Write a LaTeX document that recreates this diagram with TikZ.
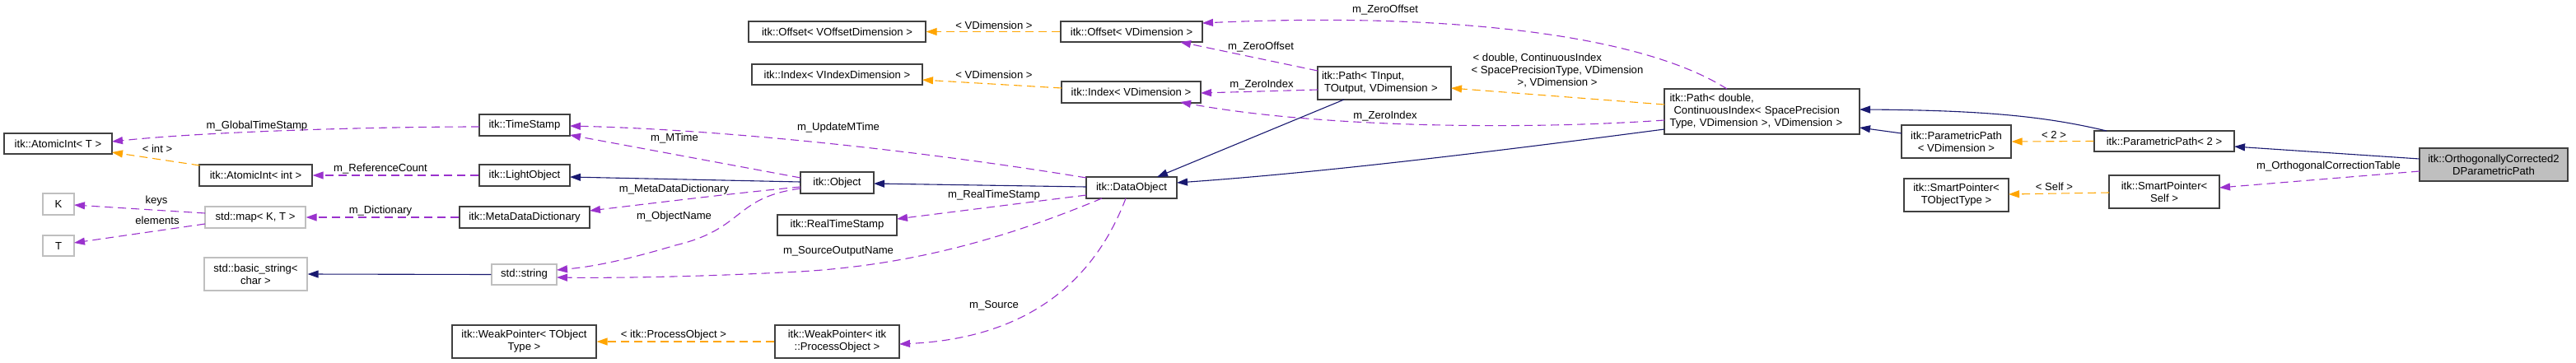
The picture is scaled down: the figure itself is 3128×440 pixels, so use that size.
\documentclass[tikz,border=0pt]{standalone}
\usepackage{fontspec}
\setmainfont{Liberation Sans}
\usetikzlibrary{arrows.meta}
\definecolor{navy}{HTML}{191970}
\definecolor{purp}{HTML}{9A32CD}
\definecolor{orng}{HTML}{FFA500}
\definecolor{bdark}{HTML}{404040}
\definecolor{bgray}{HTML}{BFBFBF}
\begin{document}
\begin{tikzpicture}[x=1pt,y=-1pt,
  font=\fontsize{13.1}{15}\selectfont,
  cls/.style={draw=bdark, line width=1.2pt, fill=white, inner sep=0pt, align=center},
  ext/.style={cls, draw=bgray},
  lbl/.style={inner sep=0pt, align=center},
  inh/.style={draw=navy, line width=1.1pt, -{Triangle[length=13pt,width=9pt]}},
  mem/.style={draw=purp, line width=1.1pt, dash pattern=on 10pt off 6pt, -{Triangle[length=13pt,width=9pt]}},
  tpl/.style={draw=orng, line width=1.1pt, dash pattern=on 10pt off 6pt, -{Triangle[length=13pt,width=9pt]}}]
\useasboundingbox (0,0) rectangle (3128,440);

% nodes
\node[cls, minimum width=131pt, minimum height=25pt] (at) at (70.5,174.5) {itk::AtomicInt< T >};
\node[cls, minimum width=137pt, minimum height=26pt] (ati) at (310.5,213) {itk::AtomicInt< int >};
\node[ext, minimum width=38pt, minimum height=26pt] (K) at (71,248) {K};
\node[ext, minimum width=38pt, minimum height=25pt] (T) at (71,298.5) {T};
\node[ext, minimum width=122pt, minimum height=26pt] (map) at (310,264) {std::map< K, T >};
\node[ext, minimum width=125pt, minimum height=40pt] (bstr) at (310.5,333) {std::basic\_string<\\char >};
\node[cls, minimum width=110pt, minimum height=26pt] (ts) at (637,152) {itk::TimeStamp};
\node[cls, minimum width=110pt, minimum height=26pt] (lo) at (637,213) {itk::LightObject};
\node[cls, minimum width=158pt, minimum height=26pt] (mdd) at (637,264) {itk::MetaDataDictionary};
\node[ext, minimum width=79pt, minimum height=25pt] (str) at (636.5,333.5) {std::string};
\node[cls, minimum width=175pt, minimum height=40pt] (wpt) at (636.5,415) {itk::WeakPointer< TObject\\Type >};
\node[cls, minimum width=215pt, minimum height=25pt] (offv) at (1016.5,38.5) {itk::Offset< VOffsetDimension >};
\node[cls, minimum width=207pt, minimum height=25pt] (idxv) at (1016.5,90.5) {itk::Index< VIndexDimension >};
\node[cls, minimum width=89pt, minimum height=26pt] (obj) at (1016.5,222) {itk::Object};
\node[cls, minimum width=145pt, minimum height=25pt] (rts) at (1016.5,273.5) {itk::RealTimeStamp};
\node[cls, minimum width=151pt, minimum height=40pt] (wpp) at (1016.5,415) {itk::WeakPointer< itk\\::ProcessObject >};
\node[cls, minimum width=172pt, minimum height=25pt] (off) at (1374,38.5) {itk::Offset< VDimension >};
\node[cls, minimum width=169pt, minimum height=26pt] (idx) at (1373.5,112) {itk::Index< VDimension >};
\node[cls, minimum width=110pt, minimum height=26pt] (dobj) at (1374,228) {itk::DataObject};
\node[cls, minimum width=162pt, minimum height=40pt, align=left, text width=152pt] (pathT) at (1681,101) {itk::Path< TInput,\\\hspace*{3pt}TOutput, VDimension >};
\node[cls, minimum width=237pt, minimum height=55pt, align=left, text width=224pt] (pathD) at (2139.5,135.5) {itk::Path< double,\\\hspace*{5pt}ContinuousIndex< SpacePrecision\\Type, VDimension >, VDimension >};
\node[cls, minimum width=133pt, minimum height=40pt] (ppv) at (2375.5,172) {itk::ParametricPath\\< VDimension >};
\node[cls, minimum width=127pt, minimum height=40pt] (spt) at (2375.5,237) {itk::SmartPointer<\\TObjectType >};
\node[cls, minimum width=170pt, minimum height=25pt] (pp2) at (2628,171.5) {itk::ParametricPath< 2 >};
\node[cls, minimum width=134pt, minimum height=40pt] (sp) at (2628,233) {itk::SmartPointer<\\Self >};
\node[cls, fill=bgray, minimum width=180pt, minimum height=40pt] (ortho) at (3028,200) {itk::OrthogonallyCorrected2\\DParametricPath};

% edges
\draw[tpl] ([shift={(-68,-12)}]ati.center) -- ([shift={(65.5,10.5)}]at.center);
\draw[mem] ([shift={(-55,2)}]ts.center) .. controls (450,154) and (250,160) .. ([shift={(65.5,-2.5)}]at.center);
\draw[mem] (lo.west) -- (ati.east);
\draw[mem] ([shift={(-61,-5)}]map.center) -- ([shift={(19,1)}]K.center);
\draw[mem] ([shift={(-61,8)}]map.center) -- ([shift={(19,-3.5)}]T.center);
\draw[mem] (mdd.west) -- (map.east);
\draw[inh] (str.west) -- (bstr.east);
\draw[mem] ([shift={(-44.5,-6)}]obj.center) -- ([shift={(55,12)}]ts.center);
\draw[mem] ([shift={(-55,-12)}]dobj.center) .. controls (1150,188) and (900,158) .. ([shift={(55,1)}]ts.center);
\draw[inh] ([shift={(-44.5,-1)}]obj.center) -- ([shift={(55,2)}]lo.center);
\draw[mem] ([shift={(-44.5,5)}]obj.center) .. controls (880,236) and (800,246) .. ([shift={(79,-8)}]mdd.center);
\draw[mem] ([shift={(-44.5,7)}]obj.center) .. controls (890,240) and (905,278) .. (820,298) .. controls (760,316) and (720,324) .. ([shift={(39.5,-5.5)}]str.center);
\draw[mem] ([shift={(-36,13)}]dobj.center) .. controls (1220,290) and (1100,325) .. (950,331) .. controls (850,336) and (750,338) .. ([shift={(39.5,3.5)}]str.center);
\draw[mem] ([shift={(-55,9)}]dobj.center) -- ([shift={(72.5,-7.5)}]rts.center);
\draw[mem] ([shift={(-7,13)}]dobj.center) .. controls (1335,325) and (1265,410) .. ([shift={(75.5,3)}]wpp.center);
\draw[tpl] (wpp.west) -- (wpt.east);
\draw[inh] ([shift={(-55,-1)}]dobj.center) -- ([shift={(44.5,1)}]obj.center);
\draw[tpl] (off.west) -- (offv.east);
\draw[tpl] ([shift={(-84.5,-5)}]idx.center) -- ([shift={(103.5,6.5)}]idxv.center);
\draw[mem] ([shift={(-81,-15)}]pathT.center) -- ([shift={(59,12.5)}]off.center);
\draw[mem] ([shift={(-81,8)}]pathT.center) -- ([shift={(84.5,1)}]idx.center);
\draw[mem] ([shift={(-42.5,-27.5)}]pathD.center) .. controls (1990,40) and (1750,15) .. ([shift={(86,-10.5)}]off.center);
\draw[mem] ([shift={(-118.5,10.5)}]pathD.center) .. controls (1850,158) and (1600,155) .. ([shift={(59.5,12)}]idx.center);
\draw[tpl] ([shift={(-118.5,-8.5)}]pathD.center) -- ([shift={(81,6)}]pathT.center);
\draw[inh] ([shift={(-49,20)}]pathT.center) -- ([shift={(31,-13)}]dobj.center);
\draw[inh] ([shift={(-118.5,21.5)}]pathD.center) .. controls (1800,186) and (1600,210) .. ([shift={(55,-6)}]dobj.center);
\draw[inh] ([shift={(-66.5,-10)}]ppv.center) -- ([shift={(118.5,19.5)}]pathD.center);
\draw[inh] ([shift={(-70,-12.5)}]pp2.center) .. controls (2490,143) and (2420,134) .. ([shift={(118.5,-2.5)}]pathD.center);
\draw[tpl] (pp2.west) -- (ppv.east);
\draw[tpl] ([shift={(-67,1)}]sp.center) -- ([shift={(63.5,-1)}]spt.center);
\draw[inh] ([shift={(-90,-7)}]ortho.center) -- ([shift={(85,6.5)}]pp2.center);
\draw[mem] ([shift={(-90,8)}]ortho.center) -- ([shift={(67,-5)}]sp.center);

% labels
\node[lbl] (l1) at (191,181) {< int >};
\node[lbl] (l2) at (312,153) {m\_GlobalTimeStamp};
\node[lbl] (l3) at (462,205) {m\_ReferenceCount};
\node[lbl] (l4) at (190,244) {keys};
\node[lbl] (l5) at (191,268) {elements};
\node[lbl] (l6) at (462,256) {m\_Dictionary};
\node[lbl] (l7) at (819,168) {m\_MTime};
\node[lbl] (l8) at (1018,155) {m\_UpdateMTime};
\node[lbl] (l9) at (818.5,230) {m\_MetaDataDictionary};
\node[lbl] (l10) at (818.5,263) {m\_ObjectName};
\node[lbl] (l11) at (1018,305) {m\_SourceOutputName};
\node[lbl] (l12) at (1207,237) {m\_RealTimeStamp};
\node[lbl] (l13) at (1207,371) {m\_Source};
\node[lbl] (l14) at (818,407) {< itk::ProcessObject >};
\node[lbl] (l15) at (1207,31) {< VDimension >};
\node[lbl] (l16) at (1207,91) {< VDimension >};
\node[lbl] (l17) at (1531,57) {m\_ZeroOffset};
\node[lbl] (l18) at (1532,103) {m\_ZeroIndex};
\node[lbl] (l19) at (1682,12) {m\_ZeroOffset};
\node[lbl] (l20) at (1682,141) {m\_ZeroIndex};
\node[lbl, align=left] (l21) at (1891,86) {\hspace*{2pt}< double, ContinuousIndex\\< SpacePrecisionType, VDimension\\\hspace*{56pt}>, VDimension >};
\node[lbl] (l22) at (2494,164) {< 2 >};
\node[lbl] (l23) at (2494.5,227) {< Self >};
\node[lbl] (l24) at (2827.5,202) {m\_OrthogonalCorrectionTable};
\end{tikzpicture}
\end{document}
